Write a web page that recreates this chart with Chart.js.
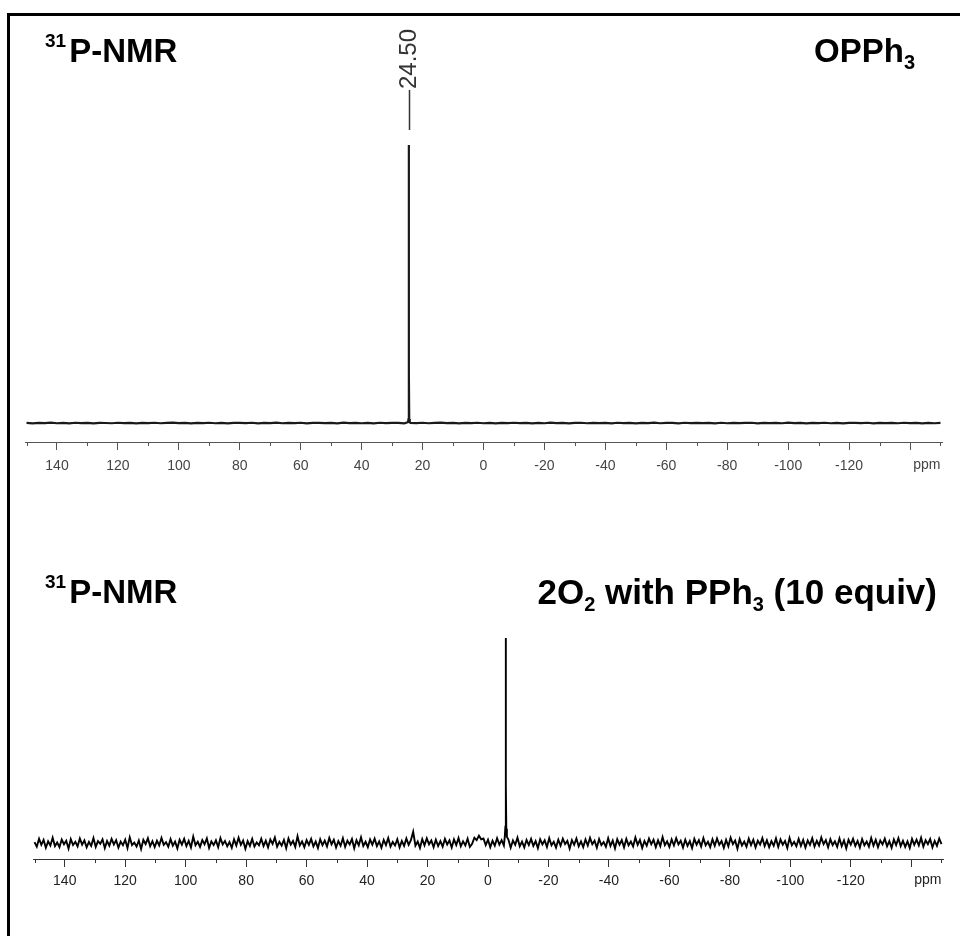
<!DOCTYPE html>
<html>
<head>
<meta charset="utf-8">
<title>31P-NMR spectra</title>
<script src="https://cdn.jsdelivr.net/npm/chart.js@4/dist/chart.umd.min.js"></script>
<style>
  body { margin: 0; background: #fff; }
  #page { position: relative; width: 960px; height: 936px; overflow: hidden; font-family: 'Liberation Sans', Arial, sans-serif; }
  canvas { position: absolute; left: 0; }
  .frame { position: absolute; background: #000; }
  .title { position: absolute; font-weight: bold; font-size: 33px; line-height: 33px; white-space: nowrap; color: #000; }
  .title .sup { font-size: 19px; position: relative; top: -15px; margin-right: 3px; }
  .title .sub { font-size: 20px; position: relative; top: 7px; }
</style>
</head>
<body>
<div id="page">
  <canvas id="specTop" width="960" height="480" style="top:0"></canvas>
  <canvas id="specBottom" width="960" height="456" style="top:480px"></canvas>

  <div class="frame" style="left:7px;top:13px;width:3px;height:923px"></div>
  <div class="frame" style="left:7px;top:13px;width:953px;height:3px"></div>

  <div class="title" style="left:45px;top:34px"><span class="sup">31</span>P-NMR</div>
  <div class="title" style="right:45px;top:34px">OPPh<span class="sub">3</span></div>

  <div class="title" style="left:45px;top:575px"><span class="sup">31</span>P-NMR</div>
  <div class="title" style="right:23px;top:574px;font-size:35px;line-height:35px">2O<span class="sub">2</span> with PPh<span class="sub">3</span> (10 equiv)</div>
</div>

<script>
// ---- axis ----
const axisMin = -150.5;
const axisMax = 150.5;
const majorTicks = [140, 120, 100, 80, 60, 40, 20, 0, -20, -40, -60, -80, -100, -120, -140];
const tickLabels = ['140', '120', '100', '80', '60', '40', '20', '0', '-20', '-40', '-60', '-80', '-100', '-120', ''];
const minorTicks = [150, 130, 110, 90, 70, 50, 30, 10, -10, -30, -50, -70, -90, -110, -130, -150];
const unitLabel = 'ppm';
const unitLabelAt = -145.5;

// ---- OPPh3 spectrum (upper panel) ----
// baseline sampled every 2 ppm from the 150 ppm edge
const topStart = 150;
const topStep = 2;
const topBaseline = [
  0.05,-0.1,0.08,-0.05,0.12,-0.08,0.03,-0.1,0.1,-0.05,
  0.05,-0.12,0.08,0.0,-0.08,0.1,-0.03,0.05,-0.1,0.08,
  -0.05,0.1,-0.08,0.03,0.12,-0.05,0.05,-0.1,0.08,-0.03,
  0.1,-0.08,0.05,-0.12,0.03,0.08,-0.05,0.1,-0.1,0.05,
  -0.03,0.12,-0.08,0.05,-0.05,0.1,-0.1,0.03,0.08,-0.05,
  0.05,-0.1,0.12,-0.03,0.08,-0.08,0.05,-0.12,0.1,-0.05,
  0.03,0.08,-0.1,0.05,-0.05,0.1,-0.08,0.03,0.12,-0.05,
  0.08,-0.1,0.05,-0.03,0.1,-0.08,0.05,-0.12,0.08,-0.05,
  0.1,-0.03,0.05,-0.1,0.08,-0.08,0.12,-0.05,0.03,-0.1,
  0.05,0.1,-0.08,0.05,-0.05,0.08,-0.12,0.1,-0.03,0.05,
  -0.1,0.08,-0.05,0.12,-0.08,0.03,0.05,-0.1,0.1,-0.05,
  0.08,-0.03,0.05,-0.12,0.1,-0.08,0.05,-0.05,0.03,0.1,
  -0.1,0.08,-0.05,0.05,-0.08,0.12,-0.03,0.05,-0.1,0.08,
  -0.05,0.1,-0.08,0.03,-0.12,0.05,0.08,-0.05,0.1,-0.1,
  0.05,-0.03,0.08,-0.08,0.1,-0.05,0.03,-0.1,0.05,-0.08,
  0.05
];
const topPeakShift = 24.50;
const topPeakShifts = [24.8, 24.62, 24.53, 24.50, 24.47, 24.38, 24.2];
const topPeakInts   = [0.3, 1.4, 18, 100, 18, 1.4, 0.3];

// ---- 2O2 + PPh3 (10 equiv) spectrum (lower panel) ----
// trace sampled every 0.75 ppm from 150 ppm; includes the small OPPh3 line near 24.7 ppm and the bump near 3 ppm
const botStart = 150;
const botStep = 0.75;
const botBaseline = [
  0.4,-1.8,2.1,-0.9,1.5,-2.3,0.8,-1.2,2.6,-1.5,0.3,-2.0,1.7,-0.6,1.1,-2.7,1.9,-1.0,0.6,-1.6,
  2.2,-0.8,1.3,-2.1,0.5,-1.4,2.4,-1.9,0.9,-0.4,1.8,-2.5,1.0,-1.3,2.0,-0.7,1.4,-2.2,0.7,-1.1,
  1.6,-2.4,2.8,-1.0,0.2,-1.7,1.2,-2.9,1.5,-0.5,2.3,-1.6,0.9,-2.0,1.1,-1.2,2.5,-0.9,0.4,-1.8,
  1.9,-1.3,0.7,-2.6,1.6,-0.8,2.0,-1.5,1.0,-2.2,3.1,-1.1,0.6,-1.9,1.4,-0.6,2.2,-2.4,0.8,-1.0,
  1.3,-2.0,2.4,-0.7,1.0,-1.6,0.5,-2.3,1.8,-1.2,2.6,-0.9,1.2,-2.8,0.9,-1.4,2.0,-1.7,0.3,-1.1,
  2.1,-1.5,1.1,-2.1,1.7,-0.4,2.7,-1.8,0.6,-1.3,1.5,-2.5,2.2,-0.8,1.0,-1.9,3.3,-1.2,0.8,-2.0,
  1.4,-0.9,2.0,-1.6,0.7,-2.4,1.8,-1.0,1.2,-1.7,2.5,-0.6,1.6,-2.2,0.9,-1.3,2.3,-1.9,1.1,-0.7,
  1.9,-2.6,1.3,-1.1,2.8,-1.4,0.6,-2.0,1.7,-0.8,2.1,-1.5,0.8,-2.3,1.5,-1.0,2.4,-1.7,0.5,-1.2,
  1.8,-2.1,1.0,-1.4,2.2,-0.9,1.4,5.5,-1.3,0.7,-2.4,1.9,-1.1,2.3,-0.6,1.2,-2.0,1.6,-1.5,0.9,
  -1.8,2.0,-0.7,1.3,-2.2,1.7,-1.0,2.4,-1.6,0.8,-1.2,2.1,-1.9,-0.4,2.6,1.4,3.6,1.8,2.2,-1.0,
  1.6,-2.0,1.1,-1.3,2.3,-0.8,1.4,-1.2,0.0,1.7,-2.3,1.2,-0.9,2.6,-1.6,0.7,-2.1,1.5,-1.0,2.0,
  -1.4,0.9,-2.5,1.8,-0.7,1.3,-1.9,2.4,-1.1,0.6,-2.2,1.6,-1.3,2.1,-0.5,1.0,-2.7,1.4,-0.9,2.2,
  -1.6,0.8,-2.0,1.7,-1.2,2.5,-0.6,1.1,-2.3,1.9,-1.0,0.5,-1.8,2.3,-1.4,1.2,-2.6,1.8,-0.8,1.4,
  -2.1,2.0,-1.1,0.7,-1.7,2.7,-0.9,1.5,-2.4,1.0,-1.3,2.2,-0.6,1.6,-2.0,1.3,-1.5,2.9,-1.0,0.8,
  -1.9,1.7,-1.2,2.3,-0.7,1.1,-2.2,1.6,-1.4,0.9,-2.5,2.0,-0.8,1.4,-1.7,2.4,-1.1,0.6,-2.0,1.8,
  -1.3,2.2,-0.9,1.0,-2.3,1.5,-1.6,2.6,-0.5,1.2,-2.8,1.9,-1.2,0.7,-1.8,2.1,-1.0,1.6,-2.1,1.1,
  -0.7,2.4,-1.5,1.3,-2.0,0.9,-1.3,2.2,-1.9,1.7,-0.8,1.0,-2.4,2.5,-1.1,0.6,-1.6,2.0,-1.4,1.5,
  -2.2,1.2,-0.9,2.3,-1.7,1.1,-1.2,2.7,-0.6,1.4,-2.1,1.8,-1.0,0.8,-1.9,2.2,-1.5,1.3,-2.6,1.6,
  -0.8,2.0,-1.4,1.0,-2.2,1.9,-1.1,0.7,-1.8,2.4,-1.3,1.5,-2.0,1.2,-0.7,2.1,-1.6,0.9,-2.3,1.7,
  -1.0,2.3,-1.5,1.1,-1.9,0.8,-2.4,2.0,-0.9,1.6,-1.2,2.5,-1.7,1.3,-0.6,1.9,-2.1,1.0,-1.4,2.2,
  -0.5
];
const botPeakShifts = [-5.55, -5.75, -5.86, -5.90, -5.94, -6.05, -6.25];
const botPeakInts   = [3, 8, 30, 100, 28, 7, 3];

// merge a sampled trace with an explicitly listed peak
function buildTrace(start, step, baseline, peakShifts, peakInts) {
  const lo = Math.min(...peakShifts), hi = Math.max(...peakShifts);
  const pts = [];
  baseline.forEach((v, i) => {
    const x = start - i * step;
    if (x < lo || x > hi) pts.push({ x: x, y: v });
  });
  peakShifts.forEach((x, i) => pts.push({ x: x, y: peakInts[i] }));
  return pts.sort((a, b) => b.x - a.x);
}

Chart.defaults.font.family = "'Liberation Sans', Arial, sans-serif";

// short minor ticks and the unit label drawn on the x scale
const axisExtras = {
  id: 'axisExtras',
  afterDraw(chart, args, o) {
    const s = chart.scales.x;
    const ctx = chart.ctx;
    ctx.save();
    ctx.strokeStyle = o.color;
    ctx.lineWidth = 1;
    minorTicks.forEach(v => {
      const x = Math.round(s.getPixelForValue(v)) + 0.5;
      ctx.beginPath();
      ctx.moveTo(x, s.top);
      ctx.lineTo(x, s.top + 4);
      ctx.stroke();
    });
    ctx.fillStyle = o.labelColor;
    ctx.font = o.font;
    ctx.textAlign = 'center';
    ctx.textBaseline = 'top';
    ctx.fillText(unitLabel, s.getPixelForValue(unitLabelAt), s.top + o.labelOffset);
    ctx.restore();
  }
};

// chemical-shift annotation above a peak
const peakLabel = {
  id: 'peakLabel',
  afterDraw(chart, args, o) {
    if (!o.enabled) return;
    const x = Math.round(chart.scales.x.getPixelForValue(o.shift)) + 0.5;
    const ctx = chart.ctx;
    ctx.save();
    ctx.strokeStyle = o.color;
    ctx.lineWidth = 1.5;
    ctx.beginPath();
    ctx.moveTo(x, o.lineTop);
    ctx.lineTo(x, o.lineBottom);
    ctx.stroke();
    ctx.translate(x, o.lineTop - 1);
    ctx.rotate(-Math.PI / 2);
    ctx.font = o.font;
    ctx.fillStyle = o.color;
    ctx.textAlign = 'left';
    ctx.textBaseline = 'middle';
    ctx.fillText(o.shift.toFixed(2), 0, 0);
    ctx.restore();
  }
};

function makeSpectrum(id, points, cfg) {
  return new Chart(document.getElementById(id), {
    type: 'line',
    data: {
      datasets: [{
        data: points,
        borderColor: cfg.lineColor,
        borderWidth: cfg.lineWidth,
        pointRadius: 0,
        tension: 0,
        clip: false
      }]
    },
    options: {
      responsive: false,
      animation: false,
      events: [],
      layout: { padding: { left: cfg.left, right: cfg.right, top: cfg.top, bottom: 0 } },
      plugins: {
        legend: { display: false },
        tooltip: { enabled: false },
        axisExtras: { color: cfg.axisColor, labelColor: cfg.labelColor, font: cfg.tickFont, labelOffset: cfg.labelOffset },
        peakLabel: cfg.peakLabel || { enabled: false }
      },
      scales: {
        x: {
          type: 'linear',
          reverse: true,
          min: axisMin,
          max: axisMax,
          afterBuildTicks: s => { s.ticks = majorTicks.map(v => ({ value: v })); },
          afterFit: s => { s.height = cfg.axisHeight; },
          grid: { drawOnChartArea: false, drawTicks: true, tickLength: 8, tickColor: cfg.axisColor, tickWidth: 1 },
          border: { display: true, color: cfg.axisColor, width: 1 },
          ticks: {
            autoSkip: false,
            maxRotation: 0,
            padding: cfg.labelOffset - 8,
            color: cfg.labelColor,
            font: { size: 14 },
            callback: (v, i) => tickLabels[i]
          }
        },
        y: { display: false, min: cfg.yMin, max: cfg.yMax }
      }
    },
    plugins: [axisExtras, peakLabel]
  });
}

makeSpectrum('specTop', buildTrace(topStart, topStep, topBaseline, topPeakShifts, topPeakInts), {
  left: 25, right: 18, top: 100, axisHeight: 38,
  yMin: -6.83, yMax: 116.2,
  lineColor: '#1a1a1a', lineWidth: 2.2,
  axisColor: '#555', labelColor: '#444', tickFont: '14px "Liberation Sans", Arial, sans-serif',
  labelOffset: 16,
  peakLabel: { enabled: true, shift: topPeakShift, lineTop: 90, lineBottom: 130, color: '#333', font: '24px "Liberation Sans", Arial, sans-serif' }
});

makeSpectrum('specBottom', buildTrace(botStart, botStep, botBaseline, botPeakShifts, botPeakInts), {
  left: 33, right: 17, top: 100, axisHeight: 77,
  yMin: -7.8, yMax: 128.3,
  lineColor: '#000', lineWidth: 1.9,
  axisColor: '#333', labelColor: '#222', tickFont: '14px "Liberation Sans", Arial, sans-serif',
  labelOffset: 14
});
</script>
</body>
</html>
